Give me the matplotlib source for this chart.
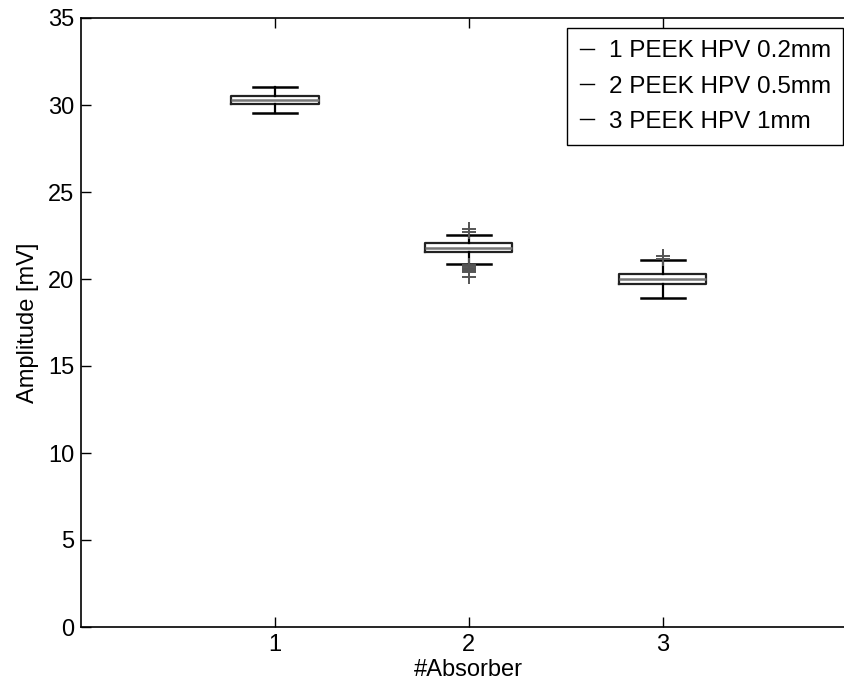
import numpy as np
import matplotlib
matplotlib.use('Agg')
import matplotlib.pyplot as plt
from matplotlib.lines import Line2D

plt.rcParams['font.family'] = ['Liberation Sans', 'DejaVu Sans']

#%% box statistics per absorber
absorber = [1, 2, 3]
labels = ['1 PEEK HPV 0.2mm', '2 PEEK HPV 0.5mm', '3 PEEK HPV 1mm']
med = [30.30, 21.80, 19.98]
q1 = [30.06, 21.53, 19.73]
q3 = [30.52, 22.05, 20.27]
whis_lo = [29.52, 20.88, 18.93]
whis_hi = [31.02, 22.51, 21.07]
fliers = [[],
          [22.85, 22.72, 20.78, 20.72, 20.66, 20.60, 20.54, 20.48, 20.43, 20.13],
          [21.30, 21.17]]

stats = []
for i in range(len(absorber)):
    stats.append(dict(med=med[i], q1=q1[i], q3=q3[i],
                      whislo=whis_lo[i], whishi=whis_hi[i],
                      fliers=fliers[i], label=str(absorber[i])))

#%%
xmax = 4.1
fig = plt.figure(figsize=(8.45, 6.88), dpi=100)
ax = fig.add_axes([81/845, 61/688, (876-81)/845, (627-18)/688])

ax.bxp(stats, positions=absorber, widths=0.45, showfliers=True,
       boxprops=dict(color='#222222', linewidth=1.6),
       medianprops=dict(color='#777777', linewidth=1.8),
       whiskerprops=dict(color='black', linewidth=1.6),
       capprops=dict(color='black', linewidth=1.8),
       capwidths=0.225,
       flierprops=dict(marker='+', markeredgecolor='#555555', markersize=10,
                       markeredgewidth=1.4, linestyle='none'))

ax.set_xlim(0, xmax)
ax.set_ylim(0, 35)
ax.set_yticks(np.arange(0, 36, 5))
ax.set_xticks(absorber)
ax.set_xticklabels([str(a) for a in absorber])
ax.tick_params(direction='in', top=True, right=True, labelsize=17, length=7, width=1, pad=5)
for s in ax.spines.values():
    s.set_linewidth(1.2)
ax.set_xlabel('#Absorber', fontsize=17, labelpad=2, x=2/xmax)
ax.set_ylabel('Amplitude [mV]', fontsize=17, labelpad=6)

handles = [Line2D([], [], color='black', linewidth=1) for _ in labels]
leg = fig.legend(handles, labels, loc='upper right', bbox_to_anchor=(843/845, 1 - 28/688),
                 fontsize=17.5, handlelength=0.6, handletextpad=0.6,
                 labelspacing=0.55, borderpad=0.5, borderaxespad=0, fancybox=False,
                 edgecolor='black', framealpha=1)
leg.get_frame().set_linewidth(1.0)

fig.savefig('out.png', dpi=100)
